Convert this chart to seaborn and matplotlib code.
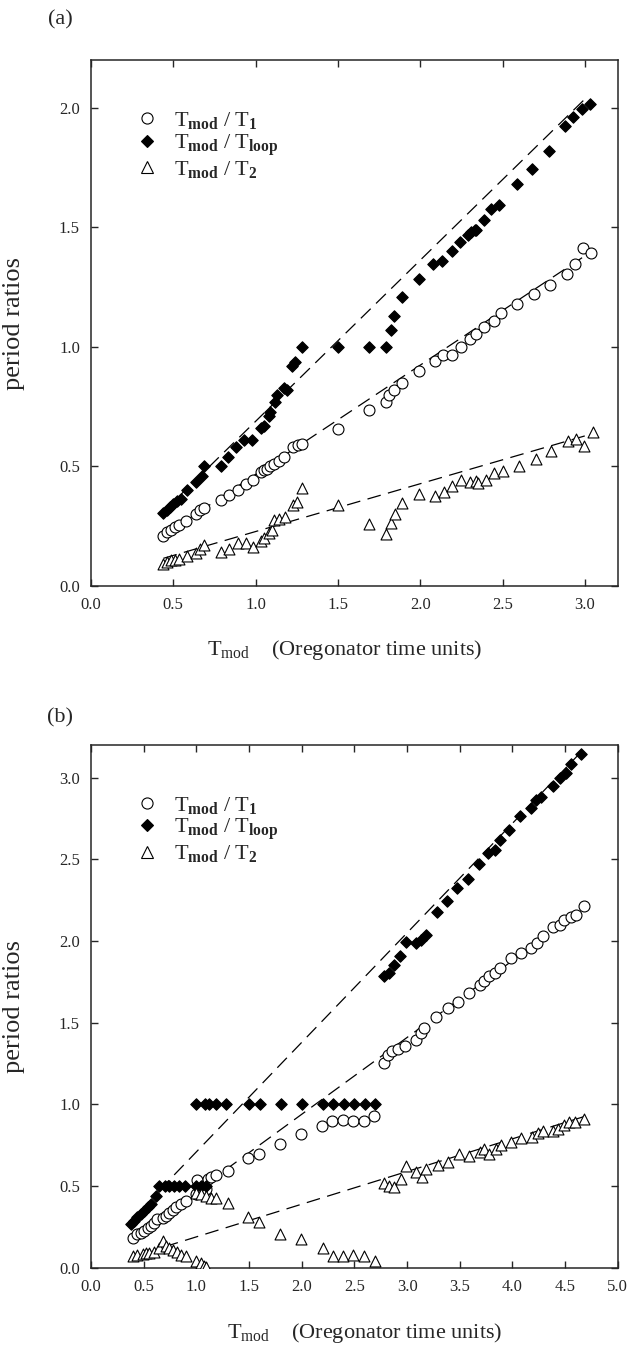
import numpy as np
import pandas as pd
import matplotlib
matplotlib.use("Agg")
import matplotlib.pyplot as plt
import seaborn as sns
from matplotlib.lines import Line2D

# ===== DONNEES PANEL (a) =====
a_circ_x = [0.44, 0.46, 0.485, 0.51, 0.535, 0.575, 0.635, 0.665, 0.685, 0.79,
            0.84, 0.89, 0.94, 0.985, 1.03, 1.05, 1.07, 1.09, 1.11, 1.14,
            1.17, 1.23, 1.26, 1.28, 1.5, 1.69, 1.79, 1.81, 1.84, 1.89,
            1.99, 2.09, 2.14, 2.195, 2.245, 2.30, 2.34, 2.39, 2.445, 2.49,
            2.59, 2.69, 2.79, 2.89, 2.94, 2.99, 3.04]
a_circ_y = [0.21, 0.225, 0.235, 0.245, 0.255, 0.27, 0.30, 0.32, 0.325, 0.36,
            0.38, 0.40, 0.425, 0.445, 0.475, 0.485, 0.49, 0.50, 0.51, 0.525,
            0.54, 0.58, 0.59, 0.595, 0.655, 0.735, 0.77, 0.80, 0.82, 0.85,
            0.90, 0.94, 0.965, 0.965, 1.0, 1.035, 1.055, 1.085, 1.11, 1.14,
            1.18, 1.22, 1.26, 1.305, 1.345, 1.415, 1.395]

a_diam_x = [0.44, 0.46, 0.48, 0.50, 0.52, 0.545, 0.585, 0.635, 0.675, 0.685,
            0.79, 0.83, 0.88, 0.93, 0.98, 1.03, 1.05, 1.08, 1.09, 1.12,
            1.13, 1.17, 1.19, 1.22, 1.24, 1.28, 1.5, 1.69, 1.79, 1.82,
            1.84, 1.89, 1.99, 2.08, 2.13, 2.19, 2.24, 2.29, 2.31, 2.33,
            2.34, 2.39, 2.43, 2.48, 2.585, 2.68, 2.78, 2.88, 2.93, 2.98, 3.03]
a_diam_y = [0.306, 0.32, 0.33, 0.345, 0.355, 0.365, 0.40, 0.435, 0.46, 0.50,
            0.50, 0.54, 0.58, 0.61, 0.61, 0.66, 0.67, 0.71, 0.73, 0.77,
            0.80, 0.83, 0.82, 0.92, 0.935, 1.0, 1.0, 1.0, 1.0, 1.07,
            1.13, 1.21, 1.285, 1.345, 1.36, 1.40, 1.44, 1.47, 1.48, 1.49,
            1.49, 1.53, 1.575, 1.595, 1.68, 1.745, 1.82, 1.925, 1.96, 1.995, 2.015]

a_tri_x = [0.44, 0.46, 0.485, 0.51, 0.535, 0.585, 0.635, 0.665, 0.685, 0.79,
           0.84, 0.89, 0.94, 0.985, 1.03, 1.05, 1.08, 1.10, 1.11, 1.14,
           1.18, 1.23, 1.25, 1.28, 1.5, 1.69, 1.79, 1.825, 1.845, 1.89,
           1.995, 2.09, 2.145, 2.195, 2.245, 2.30, 2.34, 2.35, 2.40, 2.45,
           2.50, 2.60, 2.70, 2.795, 2.895, 2.945, 2.995, 3.05]
a_tri_y = [0.094, 0.10, 0.108, 0.11, 0.115, 0.125, 0.14, 0.153, 0.17, 0.143,
           0.157, 0.178, 0.178, 0.164, 0.19, 0.20, 0.22, 0.233, 0.275, 0.28,
           0.29, 0.34, 0.35, 0.41, 0.337, 0.26, 0.217, 0.264, 0.30, 0.347,
           0.383, 0.375, 0.393, 0.42, 0.444, 0.435, 0.44, 0.43, 0.444, 0.472,
           0.48, 0.504, 0.532, 0.564, 0.608, 0.615, 0.5875, 0.646]

# droites en tirets : pente, ordonnee, x debut, x fin (cercles, losanges, triangles)
a_fit_slope = [0.457, 0.674, 0.20]
a_fit_icpt = [0.01, 0.015, 0.028]
a_fit_x0 = [0.44, 0.44, 0.44]
a_fit_x1 = [3.05, 3.00, 3.05]

# ===== DONNEES PANEL (b) =====
b_circ_x = [0.395, 0.44, 0.475, 0.505, 0.54, 0.57, 0.60, 0.63, 0.68, 0.71,
            0.74, 0.775, 0.81, 0.855, 0.90, 0.997, 1.01, 1.04, 1.075, 1.09,
            1.11, 1.14, 1.19, 1.30, 1.49, 1.59, 1.79, 1.99, 2.19, 2.29,
            2.39, 2.49, 2.59, 2.69, 2.785, 2.82, 2.86, 2.91, 2.98, 3.085,
            3.13, 3.165, 3.27, 3.39, 3.48, 3.59, 3.69, 3.73, 3.78, 3.83,
            3.88, 3.99, 4.08, 4.18, 4.23, 4.29, 4.38, 4.45, 4.49, 4.56,
            4.60, 4.68]
b_circ_y = [0.184, 0.205, 0.215, 0.225, 0.246, 0.256, 0.277, 0.298, 0.308, 0.318,
            0.339, 0.355, 0.37, 0.39, 0.41, 0.45, 0.535, 0.463, 0.473, 0.483,
            0.545, 0.556, 0.566, 0.59, 0.67, 0.70, 0.76, 0.82, 0.866, 0.897,
            0.907, 0.897, 0.897, 0.928, 1.256, 1.304, 1.33, 1.34, 1.36, 1.396,
            1.436, 1.47, 1.535, 1.59, 1.63, 1.681, 1.733, 1.753, 1.784, 1.805,
            1.836, 1.898, 1.928, 1.959, 1.99, 2.031, 2.083, 2.097, 2.13, 2.15,
            2.16, 2.216]

b_diam_x = [0.38, 0.41, 0.44, 0.475, 0.505, 0.54, 0.57, 0.62, 0.65, 0.70,
            0.74, 0.79, 0.84, 0.89, 1.00, 1.04, 1.09, 1.00, 1.08, 1.12,
            1.19, 1.28, 1.5, 1.6, 1.8, 2.0, 2.2, 2.3, 2.4, 2.5,
            2.6, 2.7, 2.785, 2.83, 2.88, 2.93, 2.99, 3.085, 3.13, 3.18,
            3.285, 3.38, 3.475, 3.575, 3.687, 3.766, 3.83, 3.877, 3.97, 4.07,
            4.18, 4.225, 4.27, 4.38, 4.45, 4.51, 4.56, 4.65]
b_diam_y = [0.267, 0.29, 0.31, 0.33, 0.35, 0.37, 0.39, 0.44, 0.5, 0.5,
            0.5, 0.5, 0.5, 0.5, 0.5, 0.5, 0.5, 1.0, 1.0, 1.0,
            1.0, 1.0, 1.0, 1.0, 1.0, 1.0, 1.0, 1.0, 1.0, 1.0,
            1.0, 1.0, 1.784, 1.805, 1.856, 1.907, 1.994, 1.99, 2.006, 2.035,
            2.175, 2.247, 2.323, 2.38, 2.469, 2.541, 2.555, 2.617, 2.679, 2.762,
            2.813, 2.864, 2.879, 2.947, 2.998, 3.029, 3.08, 3.142]

b_tri_x = [0.395, 0.44, 0.49, 0.52, 0.55, 0.60, 0.65, 0.68, 0.71, 0.74,
           0.775, 0.82, 0.855, 0.90, 0.997, 1.04, 1.075, 1.09, 1.00, 1.04,
           1.09, 1.14, 1.19, 1.30, 1.49, 1.59, 1.79, 1.99, 2.2, 2.30,
           2.395, 2.49, 2.59, 2.70, 2.785, 2.83, 2.88, 2.94, 2.99, 3.085,
           3.14, 3.18, 3.29, 3.39, 3.497, 3.59, 3.69, 3.73, 3.78, 3.845,
           3.89, 3.99, 4.08, 4.19, 4.24, 4.29, 4.38, 4.43, 4.49, 4.54,
           4.59, 4.68]
b_tri_y = [0.07, 0.08, 0.087, 0.09, 0.09, 0.10, 0.122, 0.163, 0.132, 0.122,
           0.11, 0.095, 0.08, 0.07, 0.04, 0.03, 0.012, 0.005, 0.46, 0.452,
           0.44, 0.43, 0.43, 0.40, 0.314, 0.283, 0.21, 0.174, 0.122, 0.074,
           0.07, 0.078, 0.074, 0.045, 0.52, 0.50, 0.494, 0.545, 0.624, 0.587,
           0.556, 0.603, 0.632, 0.649, 0.70, 0.686, 0.71, 0.727, 0.70, 0.727,
           0.752, 0.773, 0.793, 0.80, 0.824, 0.839, 0.835, 0.85, 0.876, 0.893,
           0.893, 0.91]

b_fit_slope = [0.47, 0.67, 0.20]
b_fit_icpt = [0.0, 0.04, -0.01]
b_fit_x0 = [0.95, 0.65, 0.70]
b_fit_x1 = [4.70, 4.65, 4.70]

legend_labels = [r'$\mathrm{T}_{\mathbf{mod}}\ /\ \mathrm{T}_{\mathbf{1}}$',
                 r'$\mathrm{T}_{\mathbf{mod}}\ /\ \mathrm{T}_{\mathbf{loop}}$',
                 r'$\mathrm{T}_{\mathbf{mod}}\ /\ \mathrm{T}_{\mathbf{2}}$']

# ===== STYLE =====
sns.set_style("ticks")
plt.rcParams['font.family'] = ['Liberation Serif', 'DejaVu Serif']
plt.rcParams['mathtext.fontset'] = 'custom'
plt.rcParams['mathtext.rm'] = 'Liberation Serif'
plt.rcParams['mathtext.bf'] = 'Liberation Serif:bold'
plt.rcParams['mathtext.it'] = 'Liberation Serif:italic'

fig = plt.figure(figsize=(6.34, 13.46), dpi=100)
ax_a = fig.add_axes([0.1435, 0.5646, 0.831, 0.3908])
ax_b = fig.add_axes([0.1435, 0.0580, 0.831, 0.3886])

styles = [dict(marker='o', s=62, facecolor='white', edgecolor='black', linewidth=0.8),
          dict(marker='D', s=34, facecolor='black', edgecolor='black', linewidth=0.8),
          dict(marker='^', s=62, facecolor='white', edgecolor='black', linewidth=0.8)]


def draw_panel(ax, series, slopes, icpts, x0s, x1s):
    # droites en tirets
    for k in range(3):
        xs = np.array([x0s[k], x1s[k]])
        df_fit = pd.DataFrame({'x': xs, 'y': slopes[k] * xs + icpts[k]})
        sns.lineplot(data=df_fit, x='x', y='y', ax=ax, color='black', lw=0.9, zorder=1)
        ax.lines[-1].set_dashes([11, 6])
    # points
    for k, (xv, yv) in enumerate(series):
        df = pd.DataFrame({'x': xv, 'y': yv})
        sns.scatterplot(data=df, x='x', y='y', ax=ax, zorder=3, **styles[k])
    for sp in ax.spines.values():
        sp.set_visible(True)
        sp.set_linewidth(1.1)
    ax.tick_params(direction='in', top=True, right=True, length=5, width=1,
                   labelsize=12, pad=8)
    handles = [Line2D([], [], ls='none', marker='o', ms=8, mfc='white', mec='black', mew=0.8),
               Line2D([], [], ls='none', marker='D', ms=6, mfc='black', mec='black', mew=0.8),
               Line2D([], [], ls='none', marker='^', ms=8, mfc='white', mec='black', mew=0.8)]
    ax.legend(handles, legend_labels, loc='upper left', bbox_to_anchor=(0.085, 0.905),
              frameon=False, fontsize=16, handlelength=1.0, handletextpad=0.7,
              labelspacing=0.05, borderpad=0, borderaxespad=0)
    ax.set_ylabel('period ratios', fontsize=19)
    ax.yaxis.set_label_coords(-0.125, 0.5)
    ax.set_xlabel(r'$\mathrm{T}_{\mathrm{mod}}$    (Oregonator time units)', fontsize=16)
    ax.xaxis.label.set_verticalalignment('center')


draw_panel(ax_a, [(a_circ_x, a_circ_y), (a_diam_x, a_diam_y), (a_tri_x, a_tri_y)],
           a_fit_slope, a_fit_icpt, a_fit_x0, a_fit_x1)
ax_a.set_xlim(0, 3.2)
ax_a.set_ylim(0, 2.2)
ax_a.set_xticks(np.arange(0, 3.01, 0.5))
ax_a.set_yticks(np.arange(0, 2.01, 0.5))
ax_a.xaxis.set_major_formatter(matplotlib.ticker.FormatStrFormatter('%.1f'))
ax_a.yaxis.set_major_formatter(matplotlib.ticker.FormatStrFormatter('%.1f'))
ax_a.xaxis.set_label_coords(0.482, -0.122)

draw_panel(ax_b, [(b_circ_x, b_circ_y), (b_diam_x, b_diam_y), (b_tri_x, b_tri_y)],
           b_fit_slope, b_fit_icpt, b_fit_x0, b_fit_x1)
ax_b.set_xlim(0, 5.0)
ax_b.set_ylim(0, 3.2)
ax_b.set_xticks(np.arange(0, 5.01, 0.5))
ax_b.set_yticks(np.arange(0, 3.01, 0.5))
ax_b.xaxis.set_major_formatter(matplotlib.ticker.FormatStrFormatter('%.1f'))
ax_b.yaxis.set_major_formatter(matplotlib.ticker.FormatStrFormatter('%.1f'))
ax_b.xaxis.set_label_coords(0.52, -0.125)

fig.text(0.0946, 0.985, '(a)', fontsize=16, ha='center', va='center')
fig.text(0.0946, 0.4665, '(b)', fontsize=16, ha='center', va='center')

fig.savefig('out.png', dpi=100)
